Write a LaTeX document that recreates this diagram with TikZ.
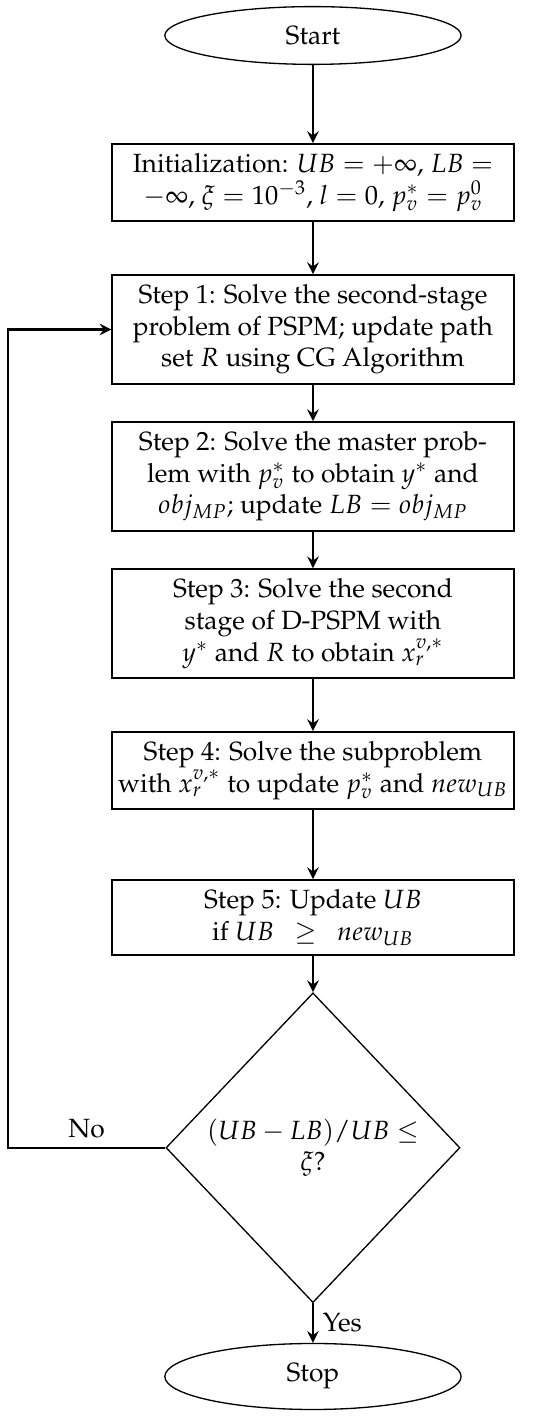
\documentclass[tikz,border=0pt]{standalone}
\usepackage[T1]{fontenc}
\usepackage{mathpazo}
\usetikzlibrary{shapes.geometric, arrows.meta}

\begin{document}
\begin{tikzpicture}[
    node distance=1.96cm,
    every node/.style={font=\normalsize, align=center},
    terminal/.style={ellipse, draw=black, line width=0.5pt, minimum width=3.95cm, inner sep=0pt},
    box/.style={rectangle, draw=black, line width=0.7pt, minimum width=5.35cm, inner xsep=1pt, inner ysep=3.6pt},
    decision/.style={diamond, draw=black, line width=0.5pt, minimum width=3.92cm, minimum height=4.13cm, inner sep=0pt},
    arrow/.style={-{Stealth[length=4.5pt, width=4.4pt, inset=1.6pt]}, line width=0.9pt}
]
\useasboundingbox (-4.173,0.473) rectangle (3.16,-18.447);

% NODES
\node[terminal, minimum height=0.77cm] (start) {Start};
\node[box, below of=start] (init) {Initialization: $UB = +\infty$, $LB =$\\$-\infty$, $\xi = 10^{-3}$, $l = 0$, $p_v^* = p_v^0$};
\node[box, below of=init] (step1) {Step 1: Solve the second-stage\\problem of PSPM; update path\\set $R$ using CG Algorithm};
\node[box, below of=step1] (step2) {Step 2: Solve the master prob-\\lem with $p_v^*$ to obtain $y^*$ and\\$obj_{MP}$; update $LB = obj_{MP}$};
\node[box, below of=step2] (step3) {Step 3: Solve the second\\stage of D-PSPM with\\$y^*$ and $R$ to obtain $x_r^{v,*}$};
\node[box, below of=step3] (step4) {Step 4: Solve the subproblem\\with $x_r^{v,*}$ to update $p_v^*$ and $new_{UB}$};
\node[box, below of=step4] (step5) {Step 5: Update $UB$\\if $UB\ \ \geq\ \ new_{UB}$};
\node[decision, below of=step5, node distance=3.07cm] (check) {$(UB - LB)/UB \leq$\\$\xi$?};
\node[terminal, minimum height=0.88cm, below of=check, node distance=3.05cm] (stop) {Stop};
\coordinate (back) at (-4.067,0);

% ARROWS
\draw[arrow] (start) -- (init);
\draw[arrow] (init) -- (step1);
\draw[arrow] (step1) -- (step2);
\draw[arrow] (step2) -- (step3);
\draw[arrow] (step3) -- (step4);
\draw[arrow] (step4) -- (step5);
\draw[arrow] (step5) -- (check);
\draw[arrow] (check) -- node[right] {Yes} (stop);
\draw[arrow] (check.west) -- node[above] {No} (check.west -| back) |- (step1.west);

\end{tikzpicture}
\end{document}
